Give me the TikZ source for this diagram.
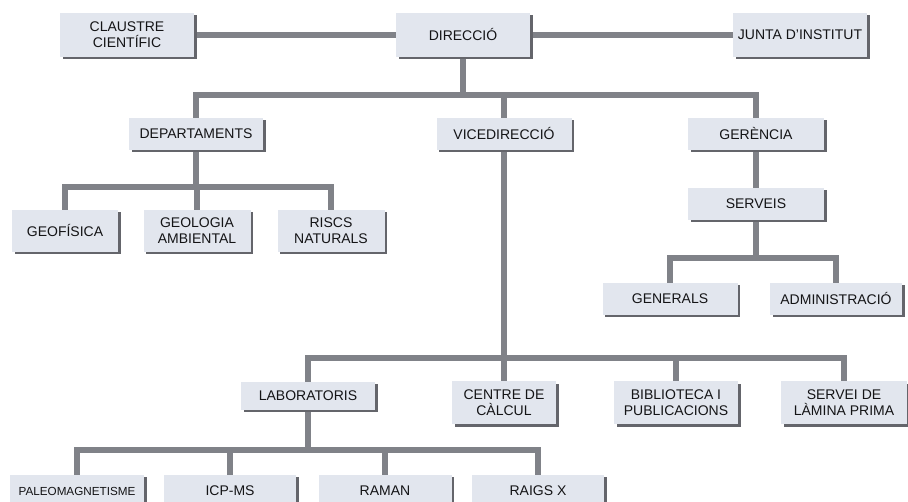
\documentclass[tikz,border=0pt]{standalone}
\usepackage{fontspec}
\setmainfont{Liberation Sans}
\usetikzlibrary{shadows,backgrounds}

\definecolor{caixa}{RGB}{226,230,238}
\definecolor{ombra}{RGB}{100,101,107}
\definecolor{linia}{RGB}{128,130,136}
\definecolor{lletra}{RGB}{20,20,22}

\begin{document}
\begin{tikzpicture}[x=1pt,y=-1pt,
    unitat/.style={fill=caixa,text=lletra,align=center,inner sep=0pt,
      font=\fontsize{14}{16}\selectfont,minimum width=134pt,minimum height=32pt,
      drop shadow={shadow xshift=2.5pt,shadow yshift=-2.5pt,fill=ombra,opacity=1}},
    alta/.style={minimum height=43pt},
    lligam/.style={draw=linia,line width=6.5pt}]
  \useasboundingbox (0,0) rectangle (908,502);
  \clip (0,0) rectangle (908,502);

  % primer nivell
  \node[unitat,minimum height=44pt] (claustre) at (127,35) {CLAUSTRE\\CIENTÍFIC};
  \node[unitat,minimum height=44pt] (direccio) at (463,35) {DIRECCIÓ};
  \node[unitat,minimum height=44pt] (junta) at (800,35) {JUNTA D'INSTITUT};

  \node[unitat] (departaments) at (196,134) {DEPARTAMENTS};
  \node[unitat,minimum width=135pt] (vicedireccio) at (504,134) {VICEDIRECCIÓ};
  \node[unitat,minimum width=136pt] (gerencia) at (756,134) {GERÈNCIA};

  % departaments
  \node[unitat,minimum width=106pt,minimum height=42pt] (geofisica) at (65,231) {GEOFÍSICA};
  \node[unitat,minimum width=107pt,minimum height=42pt] (geologia) at (197,231) {GEOLOGIA\\AMBIENTAL};
  \node[unitat,minimum width=107pt,minimum height=42pt] (riscs) at (331,231) {RISCS\\NATURALS};

  % gerencia
  \node[unitat,minimum width=136pt] (serveis) at (756,204) {SERVEIS};
  \node[unitat,minimum width=135pt] (generals) at (670,299) {GENERALS};
  \node[unitat,minimum width=132pt] (administracio) at (836,299) {ADMINISTRACIÓ};

  % vicedireccio
  \node[unitat,minimum height=28pt] (laboratoris) at (308,396) {LABORATORIS};
  \node[unitat,alta,minimum width=104pt] (centre) at (504,403) {CENTRE DE\\CÀLCUL};
  \node[unitat,alta,minimum width=124pt] (biblioteca) at (676,403) {BIBLIOTECA I\\PUBLICACIONS};
  \node[unitat,alta,minimum width=126pt] (servei) at (844,403) {SERVEI DE\\LÀMINA PRIMA};

  % laboratoris
  \node[unitat,font=\fontsize{11.7}{14}\selectfont] (paleo) at (77,491) {PALEOMAGNETISME};
  \node[unitat,minimum width=132pt] (icp) at (230,491) {ICP-MS};
  \node[unitat,minimum width=133pt] (raman) at (385,491) {RAMAN};
  \node[unitat,minimum width=132pt] (raigs) at (538,491) {RAIGS X};

  \begin{scope}[on background layer]
    \draw[lligam] (claustre) -- (direccio) -- (junta);
    \foreach \nom in {departaments,vicedireccio,gerencia}
      \draw[lligam] (direccio) -- ++(0,60) -| (\nom);
    \foreach \nom in {geofisica,geologia,riscs}
      \draw[lligam] (departaments) -- ++(0,53) -| (\nom);
    \draw[lligam] (gerencia) -- (serveis);
    \foreach \nom in {generals,administracio}
      \draw[lligam] (serveis) -- ++(0,54) -| (\nom);
    \draw[lligam] (vicedireccio) -- (centre);
    \foreach \nom in {laboratoris,biblioteca,servei}
      \draw[lligam] (vicedireccio) -- ++(0,224) -| (\nom);
    \foreach \nom in {paleo,icp,raman,raigs}
      \draw[lligam] (laboratoris) -- ++(0,54) -| (\nom);
  \end{scope}
\end{tikzpicture}
\end{document}
